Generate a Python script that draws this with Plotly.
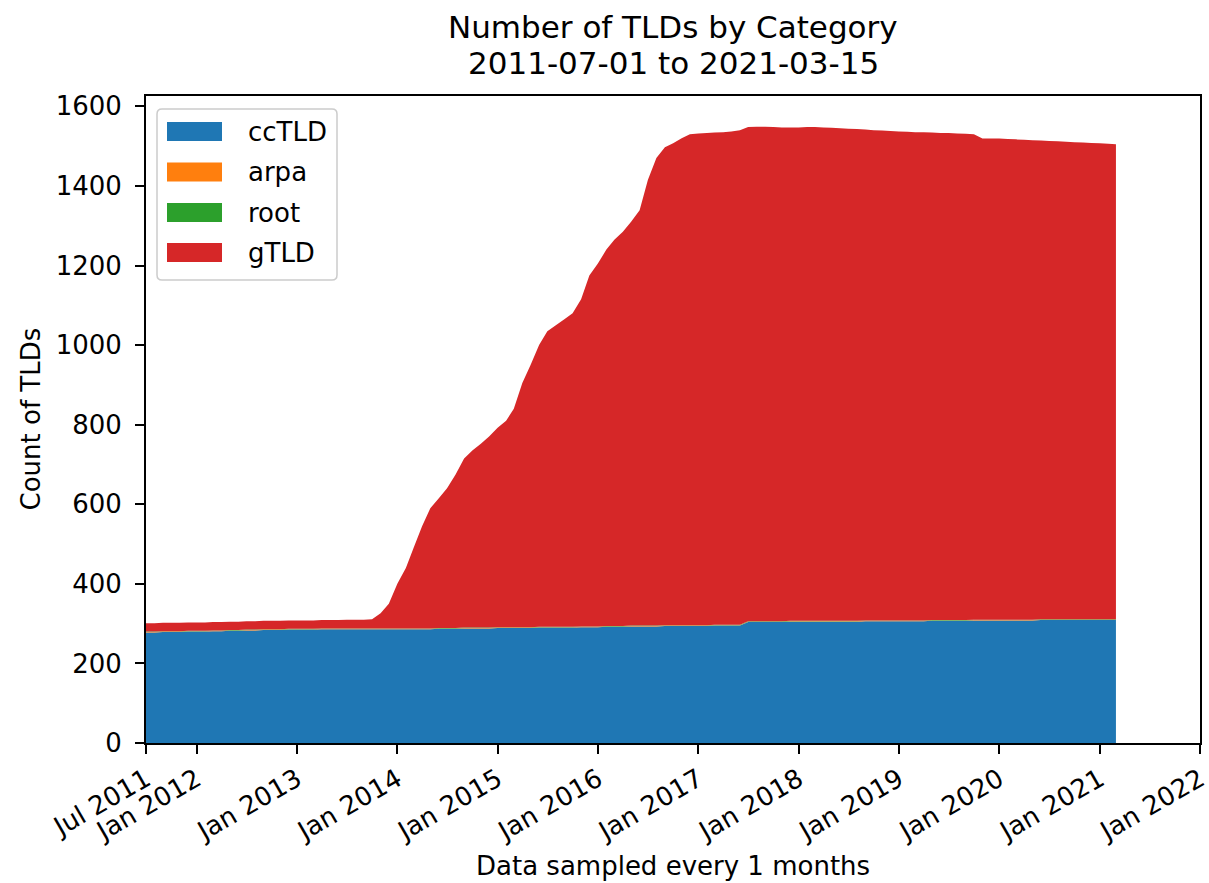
import pandas as pd
import plotly.graph_objects as go

# Monthly samples, 2011-07 through 2021-03
months = pd.date_range("2011-07-01", periods=117, freq="MS")

cctld = [
    278, 278, 279, 279, 279, 280,
    280, 280, 281, 281, 282, 282,
    283, 283, 284, 284, 284, 285,
    285, 285, 285, 286, 286, 286,
    286, 286, 286, 286, 286, 286,
    286, 286, 286, 286, 286, 287,
    287, 287, 288, 288, 288, 288,
    289, 289, 289, 289, 289, 290,
    290, 290, 290, 290, 291, 291,
    291, 292, 292, 292, 293, 293,
    293, 293, 294, 294, 294, 294,
    294, 294, 295, 295, 295, 295,
    304, 304, 304, 304, 304, 305,
    305, 305, 305, 305, 305, 305,
    305, 305, 306, 306, 306, 306,
    306, 306, 306, 306, 307, 307,
    307, 307, 307, 308, 308, 308,
    308, 308, 308, 308, 308, 309,
    309, 309, 309, 309, 309, 309,
    309, 309, 309,
]

arpa = [
    1, 1, 1, 1, 1, 1, 1, 1, 1, 1, 1, 1, 1, 1, 1, 1, 1, 1, 1, 1,
    1, 1, 1, 1, 1, 1, 1, 1, 1, 1, 1, 1, 1, 1, 1, 1, 1, 1, 1, 1,
    1, 1, 1, 1, 1, 1, 1, 1, 1, 1, 1, 1, 1, 1, 1, 1, 1, 1, 1, 1,
    1, 1, 1, 1, 1, 1, 1, 1, 1, 1, 1, 1, 1, 1, 1, 1, 1, 1, 1, 1,
    1, 1, 1, 1, 1, 1, 1, 1, 1, 1, 1, 1, 1, 1, 1, 1, 1, 1, 1, 1,
    1, 1, 1, 1, 1, 1, 1, 1, 1, 1, 1, 1, 1, 1, 1, 1, 1,
]

root = [
    1, 1, 1, 1, 1, 1, 1, 1, 1, 1, 1, 1, 1, 1, 1, 1, 1, 1, 1, 1,
    1, 1, 1, 1, 1, 1, 1, 1, 1, 1, 1, 1, 1, 1, 1, 1, 1, 1, 1, 1,
    1, 1, 1, 1, 1, 1, 1, 1, 1, 1, 1, 1, 1, 1, 1, 1, 1, 1, 1, 1,
    1, 1, 1, 1, 1, 1, 1, 1, 1, 1, 1, 1, 1, 1, 1, 1, 1, 1, 1, 1,
    1, 1, 1, 1, 1, 1, 1, 1, 1, 1, 1, 1, 1, 1, 1, 1, 1, 1, 1, 1,
    1, 1, 1, 1, 1, 1, 1, 1, 1, 1, 1, 1, 1, 1, 1, 1, 1,
]

gtld = [
    21, 21, 21, 21, 21, 21,
    21, 21, 21, 21, 21, 21,
    21, 21, 21, 21, 21, 21,
    21, 21, 21, 21, 21, 21,
    22, 22, 22, 23, 38, 62,
    112, 152, 202, 257, 302, 326,
    351, 386, 425, 445, 462, 480,
    501, 519, 549, 614, 659, 708,
    743, 758, 773, 788, 822, 882,
    912, 946, 971, 991, 1015, 1044,
    1120, 1175, 1201, 1211, 1224, 1234,
    1236, 1237, 1237, 1238, 1240, 1243,
    1242, 1243, 1243, 1242, 1241, 1240,
    1240, 1241, 1241, 1240, 1239, 1238,
    1237, 1236, 1234, 1232, 1231, 1230,
    1229, 1228, 1227, 1227, 1225, 1224,
    1224, 1223, 1222, 1220, 1209, 1209,
    1209, 1208, 1207, 1206, 1205, 1203,
    1202, 1201, 1200, 1199, 1198, 1197,
    1196, 1195, 1194,
]

series_names = ["ccTLD", "arpa", "root", "gTLD"]
series_values = [cctld, arpa, root, gtld]
series_colors = ["#1f77b4", "#ff7f0e", "#2ca02c", "#d62728"]

x_tick_dates = [
    "2011-07-01", "2012-01-01", "2013-01-01", "2014-01-01", "2015-01-01",
    "2016-01-01", "2017-01-01", "2018-01-01", "2019-01-01", "2020-01-01",
    "2021-01-01", "2022-01-01",
]
x_tick_labels = [
    "Jul 2011", "Jan 2012", "Jan 2013", "Jan 2014", "Jan 2015", "Jan 2016",
    "Jan 2017", "Jan 2018", "Jan 2019", "Jan 2020", "Jan 2021", "Jan 2022",
]

FONT = "DejaVu Sans"
W, H = 1209, 883
L, R, T, B = 146, 9, 96, 140
PW, PH = W - L - R, H - T - B


def px_x(px):
    return (px - L) / PW


def px_y(py):
    return (H - B - py) / PH


fig = go.Figure()
for name, vals, color in zip(series_names, series_values, series_colors):
    fig.add_trace(go.Scatter(
        x=months, y=vals, name=name, mode="none",
        stackgroup="tlds", fillcolor=color, showlegend=False,
        hoverinfo="x+y+name",
    ))

axis_common = dict(
    showline=True, linecolor="black", linewidth=2, mirror=True,
    ticks="outside", ticklen=9, tickwidth=2, tickcolor="black",
    showgrid=False, zeroline=False,
    tickfont=dict(family=FONT, size=26, color="black"),
)

# range end nudged a few minutes past the last tick so its label is kept
fig.update_xaxes(
    type="date", range=["2011-07-01", "2022-01-01 00:20"],
    tickmode="array", tickvals=x_tick_dates, ticktext=x_tick_labels,
    tickangle=-30, ticklabeloverflow="allow", **axis_common,
)
fig.update_yaxes(
    range=[0, 1626], tick0=0, dtick=200, ticklabelstandoff=8,
    **axis_common,
)

annotations = [
    dict(text="Number of TLDs by Category", x=0.5, y=px_y(27),
         font=dict(family=FONT, size=31, color="black")),
    dict(text="2011-07-01 to 2021-03-15", x=0.5, y=px_y(63),
         font=dict(family=FONT, size=31, color="black")),
    dict(text="Data sampled every 1 months", x=0.5, y=px_y(866),
         font=dict(family=FONT, size=26, color="black")),
    dict(text="Count of TLDs", x=px_x(30), y=0.5, textangle=-90,
         font=dict(family=FONT, size=26, color="black")),
]
for a in annotations:
    a.update(xref="paper", yref="paper", showarrow=False,
             xanchor="center", yanchor="middle")

# Legend frame with rounded corners
x0, x1 = px_x(157), px_x(337)
y0, y1 = px_y(280), px_y(109)
rx, ry = 5 / PW, 5 / PH
frame = (
    f"M {x0 + rx} {y0} L {x1 - rx} {y0} Q {x1} {y0} {x1} {y0 + ry} "
    f"L {x1} {y1 - ry} Q {x1} {y1} {x1 - rx} {y1} "
    f"L {x0 + rx} {y1} Q {x0} {y1} {x0} {y1 - ry} "
    f"L {x0} {y0 + ry} Q {x0} {y0} {x0 + rx} {y0} Z"
)
shapes = [dict(type="path", path=frame, xref="paper", yref="paper",
               line=dict(color="#cccccc", width=1.5),
               fillcolor="rgba(255,255,255,0.8)", layer="above")]

row_centers = [131.5, 172, 212.5, 252.5]
for name, color, cy in zip(series_names, series_colors, row_centers):
    shapes.append(dict(
        type="rect", xref="paper", yref="paper",
        x0=px_x(167), x1=px_x(222), y0=px_y(cy + 9.5), y1=px_y(cy - 9.5),
        fillcolor=color, line=dict(width=0), layer="above",
    ))
    annotations.append(dict(
        text=name, xref="paper", yref="paper", x=px_x(246), y=px_y(cy),
        xanchor="left", yanchor="middle", showarrow=False,
        font=dict(family=FONT, size=26, color="black"),
    ))

fig.update_layout(
    width=W, height=H,
    margin=dict(l=L, r=R, t=T, b=B, autoexpand=False),
    paper_bgcolor="white", plot_bgcolor="white",
    annotations=annotations, shapes=shapes,
    showlegend=False,
)

fig.write_html("out.html")
